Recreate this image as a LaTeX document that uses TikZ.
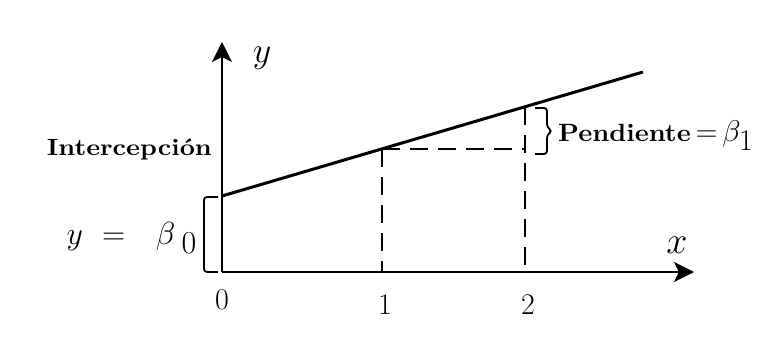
\RequirePackage{fix-cm}
\documentclass[tikz,border=0pt]{standalone}
\usetikzlibrary{arrows.meta}
\begin{document}
\begin{tikzpicture}[x=1pt,y=-1pt,
  axis/.style={line width=2.6pt,-{Stealth[length=20pt,width=20pt,inset=5pt]}},
  regline/.style={line width=3pt},
  guide/.style={line width=2.5pt,dash pattern=on 18pt off 10pt},
  bracket/.style={line width=1.8pt,rounded corners=3pt},
  lbl/.style={inner sep=0pt,font=\fontsize{30}{34}\selectfont},
  word/.style={inner sep=0pt,font=\normalsize\bfseries}]
\useasboundingbox (0,0) rectangle (778,358);
\fill[white] (0,0) rectangle (778,358);
\coordinate (O) at (222,272);
\coordinate (Ytip) at (222,42);
\coordinate (Xtip) at (694,272);
\draw[axis] (O) -- (Ytip);
\draw[axis] (O) -- (Xtip);
\coordinate (A) at (222,196);
\coordinate (B) at (643,72);
\draw[regline] (A) -- (B);
\coordinate (P1) at (382,149);
\coordinate (P2) at (525,107);
\coordinate (Q) at (525,149);
\coordinate (X1) at (382,272);
\coordinate (X2) at (525,272);
\draw[guide] (P1) -- (X1);
\draw[guide] (P1) -- (Q);
\draw[guide] (P2) -- (X2);
% brackets
\draw[bracket] (218,197) -- (204,197) -- (204,272) -- (218,272);
\draw[bracket] (535,108) -- (547,108) -- (547,127) -- (552,131) -- (547,135) -- (547,154) -- (535,154);
% labels
\node[lbl,font=\fontsize{36}{40}\selectfont] (ylab) at (262,58) {$y$};
\node[lbl,font=\fontsize{38}{40}\selectfont] (xlab) at (677,245) {$x$};
\node[lbl] (t0) at (222,300) {$0$};
\node[lbl] (t1) at (385,305) {$1$};
\node[lbl] (t2) at (528,305) {$2$};
\node[word,anchor=east] (int) at (212,150) {\scalebox{2.64}[2.35]{Intercepción}};
\node[lbl,font=\fontsize{32}{36}\selectfont,anchor=east] (b0) at (197,238) {$y\hspace{10pt}=\hspace{22pt}\beta_{\hspace{8pt}\textstyle 0}$};
\node[word,anchor=west] (pend) at (558,136) {\scalebox{2.66}[2.5]{Pendiente}\fontsize{30}{34}\selectfont$\,{=}\,\beta_{\textstyle 1}$};
\end{tikzpicture}
\end{document}
